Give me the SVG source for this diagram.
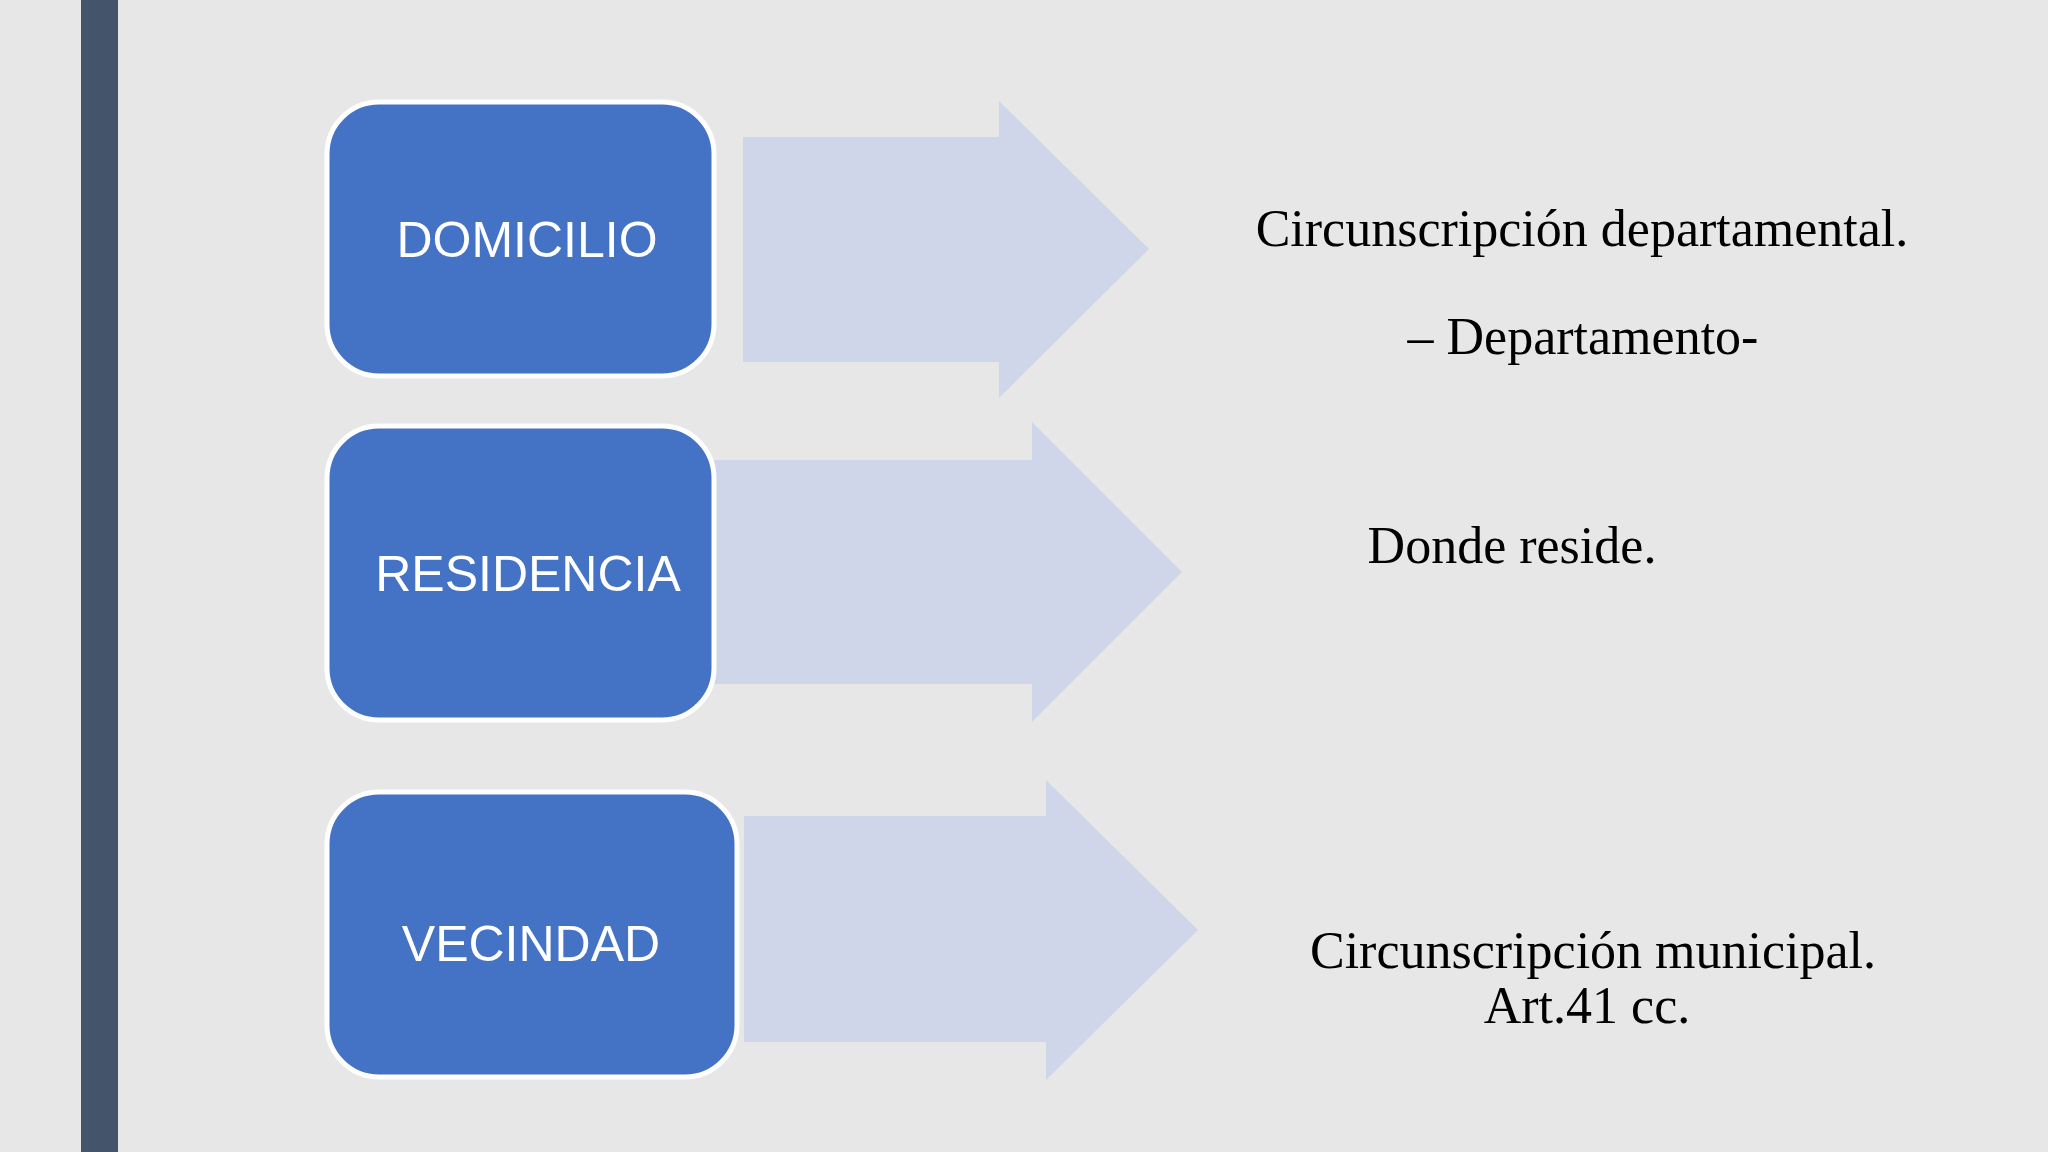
<svg xmlns="http://www.w3.org/2000/svg" width="2048" height="1152" viewBox="0 0 2048 1152">
<style>
.box{fill:#4472c4;stroke:#fff;stroke-width:5}
.arr{fill:#d0d6e9}
.lbl{font-family:"Liberation Sans",Arial,sans-serif;font-size:50px;fill:#fff;text-anchor:middle}
.txt{font-family:"Liberation Serif","Times New Roman",serif;font-size:52px;fill:#000;text-anchor:middle}
</style>
<rect width="2048" height="1152" fill="#e7e7e7"/>
<rect x="81" y="0" width="37" height="1152" fill="#44546a"/>
<g id="connectors">
<polygon class="arr" points="743,137 999,137 999,101 1149,249 999,398 999,362 743,362"/>
<polygon class="arr" points="714,460 1032,460 1032,422 1182,572 1032,722 1032,684 714,684"/>
<polygon class="arr" points="744,816 1046,816 1046,780 1198,930 1046,1080 1046,1042 744,1042"/>
</g>
<g id="domicilio"><rect class="box" x="327" y="102" width="387" height="274" rx="52"/><text class="lbl" x="527" y="257">DOMICILIO</text></g>
<g id="residencia"><rect class="box" x="327" y="426" width="387" height="294" rx="52"/><text class="lbl" x="528" y="591">RESIDENCIA</text></g>
<g id="vecindad"><rect class="box" x="327" y="792" width="410" height="285" rx="52"/><text class="lbl" x="531" y="961">VECINDAD</text></g>
<g id="t1"><text class="txt" x="1582" y="246">Circunscripción departamental.</text><text class="txt" x="1583" y="354">– Departamento-</text></g>
<g id="t2"><text class="txt" x="1512" y="563">Donde reside.</text></g>
<g id="t3"><text class="txt" x="1593" y="968">Circunscripción municipal.</text><text class="txt" x="1587" y="1023">Art.41 cc.</text></g>
</svg>
